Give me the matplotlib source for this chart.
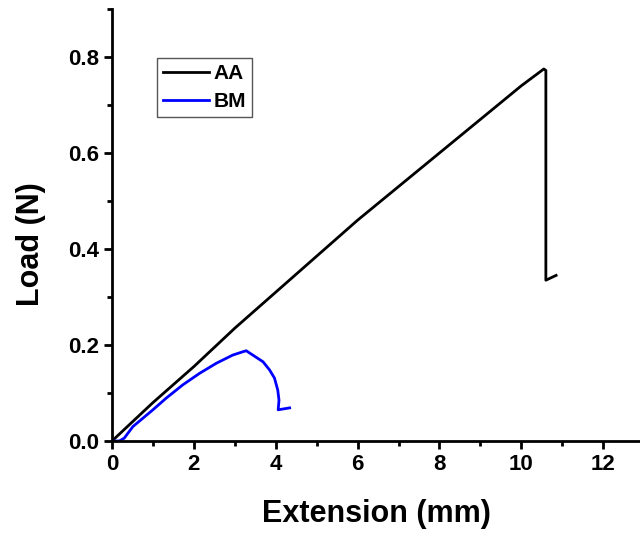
import matplotlib
matplotlib.use('Agg')
import matplotlib.pyplot as plt
from matplotlib.ticker import MultipleLocator

plt.rcParams['font.family'] = ['Liberation Sans', 'DejaVu Sans']
plt.rcParams['font.weight'] = 'bold'

# AA curve (extension mm, load N)
aa_ext = [0.0, 0.5, 1.0, 2.0, 3.0, 4.0, 5.0, 6.0, 7.0, 8.0, 9.0, 10.0, 10.55, 10.6, 10.6, 10.85]
aa_load = [0.0, 0.04, 0.08, 0.155, 0.235, 0.31, 0.385, 0.46, 0.53, 0.60, 0.67, 0.74, 0.775, 0.772, 0.335, 0.345]

# BM curve
bm_ext = [0.0, 0.18, 0.3, 0.51, 1.0, 1.32, 1.73, 2.14, 2.55, 2.95, 3.2, 3.28, 3.35, 3.44,
          3.69, 3.85, 3.97, 4.05, 4.08, 4.06, 4.34]
bm_load = [0.0, 0.0, 0.006, 0.03, 0.065, 0.089, 0.117, 0.141, 0.162, 0.179, 0.186, 0.188, 0.184, 0.179,
           0.165, 0.148, 0.131, 0.106, 0.085, 0.065, 0.069]

fig = plt.figure(figsize=(6.4, 5.38), dpi=100)
ax = fig.add_axes([0.175, 0.1803, 0.825, 0.803])

ax.plot(aa_ext, aa_load, color='black', lw=2, label='AA')
ax.plot(bm_ext, bm_load, color='#0000ff', lw=2, label='BM')

ax.set_xlim(0, 12.9)
ax.set_ylim(0, 0.9)
ax.xaxis.set_major_locator(MultipleLocator(2))
ax.xaxis.set_minor_locator(MultipleLocator(1))
ax.yaxis.set_minor_locator(MultipleLocator(0.1))
ax.set_yticks([0.0, 0.2, 0.4, 0.6, 0.8])
ax.set_yticklabels(['0.0', '0.2', '0.4', '0.6', '0.8'])

for side in ['top', 'right']:
    ax.spines[side].set_visible(False)
for side in ['left', 'bottom']:
    ax.spines[side].set_linewidth(2)

ax.tick_params(which='major', direction='out', length=5.5, width=2, labelsize=16, pad=4)
ax.tick_params(which='minor', direction='out', length=3.5, width=2)
for lbl in ax.get_xticklabels() + ax.get_yticklabels():
    lbl.set_fontweight('bold')

ax.set_xlabel('Extension (mm)', fontsize=22, fontweight='bold', labelpad=17)
ax.set_ylabel('Load (N)', fontsize=22, fontweight='bold', labelpad=16)
ax.yaxis.label.set_y(0.456)

leg = ax.legend(loc='upper left', bbox_to_anchor=(0.085, 0.886), borderaxespad=0,
                fancybox=False, framealpha=1, edgecolor='#555555',
                prop={'size': 15, 'weight': 'bold'}, handlelength=2.2,
                handletextpad=0.2, borderpad=0.3, labelspacing=0.4)
leg.get_frame().set_linewidth(1.0)

fig.savefig('out.png', dpi=100)
